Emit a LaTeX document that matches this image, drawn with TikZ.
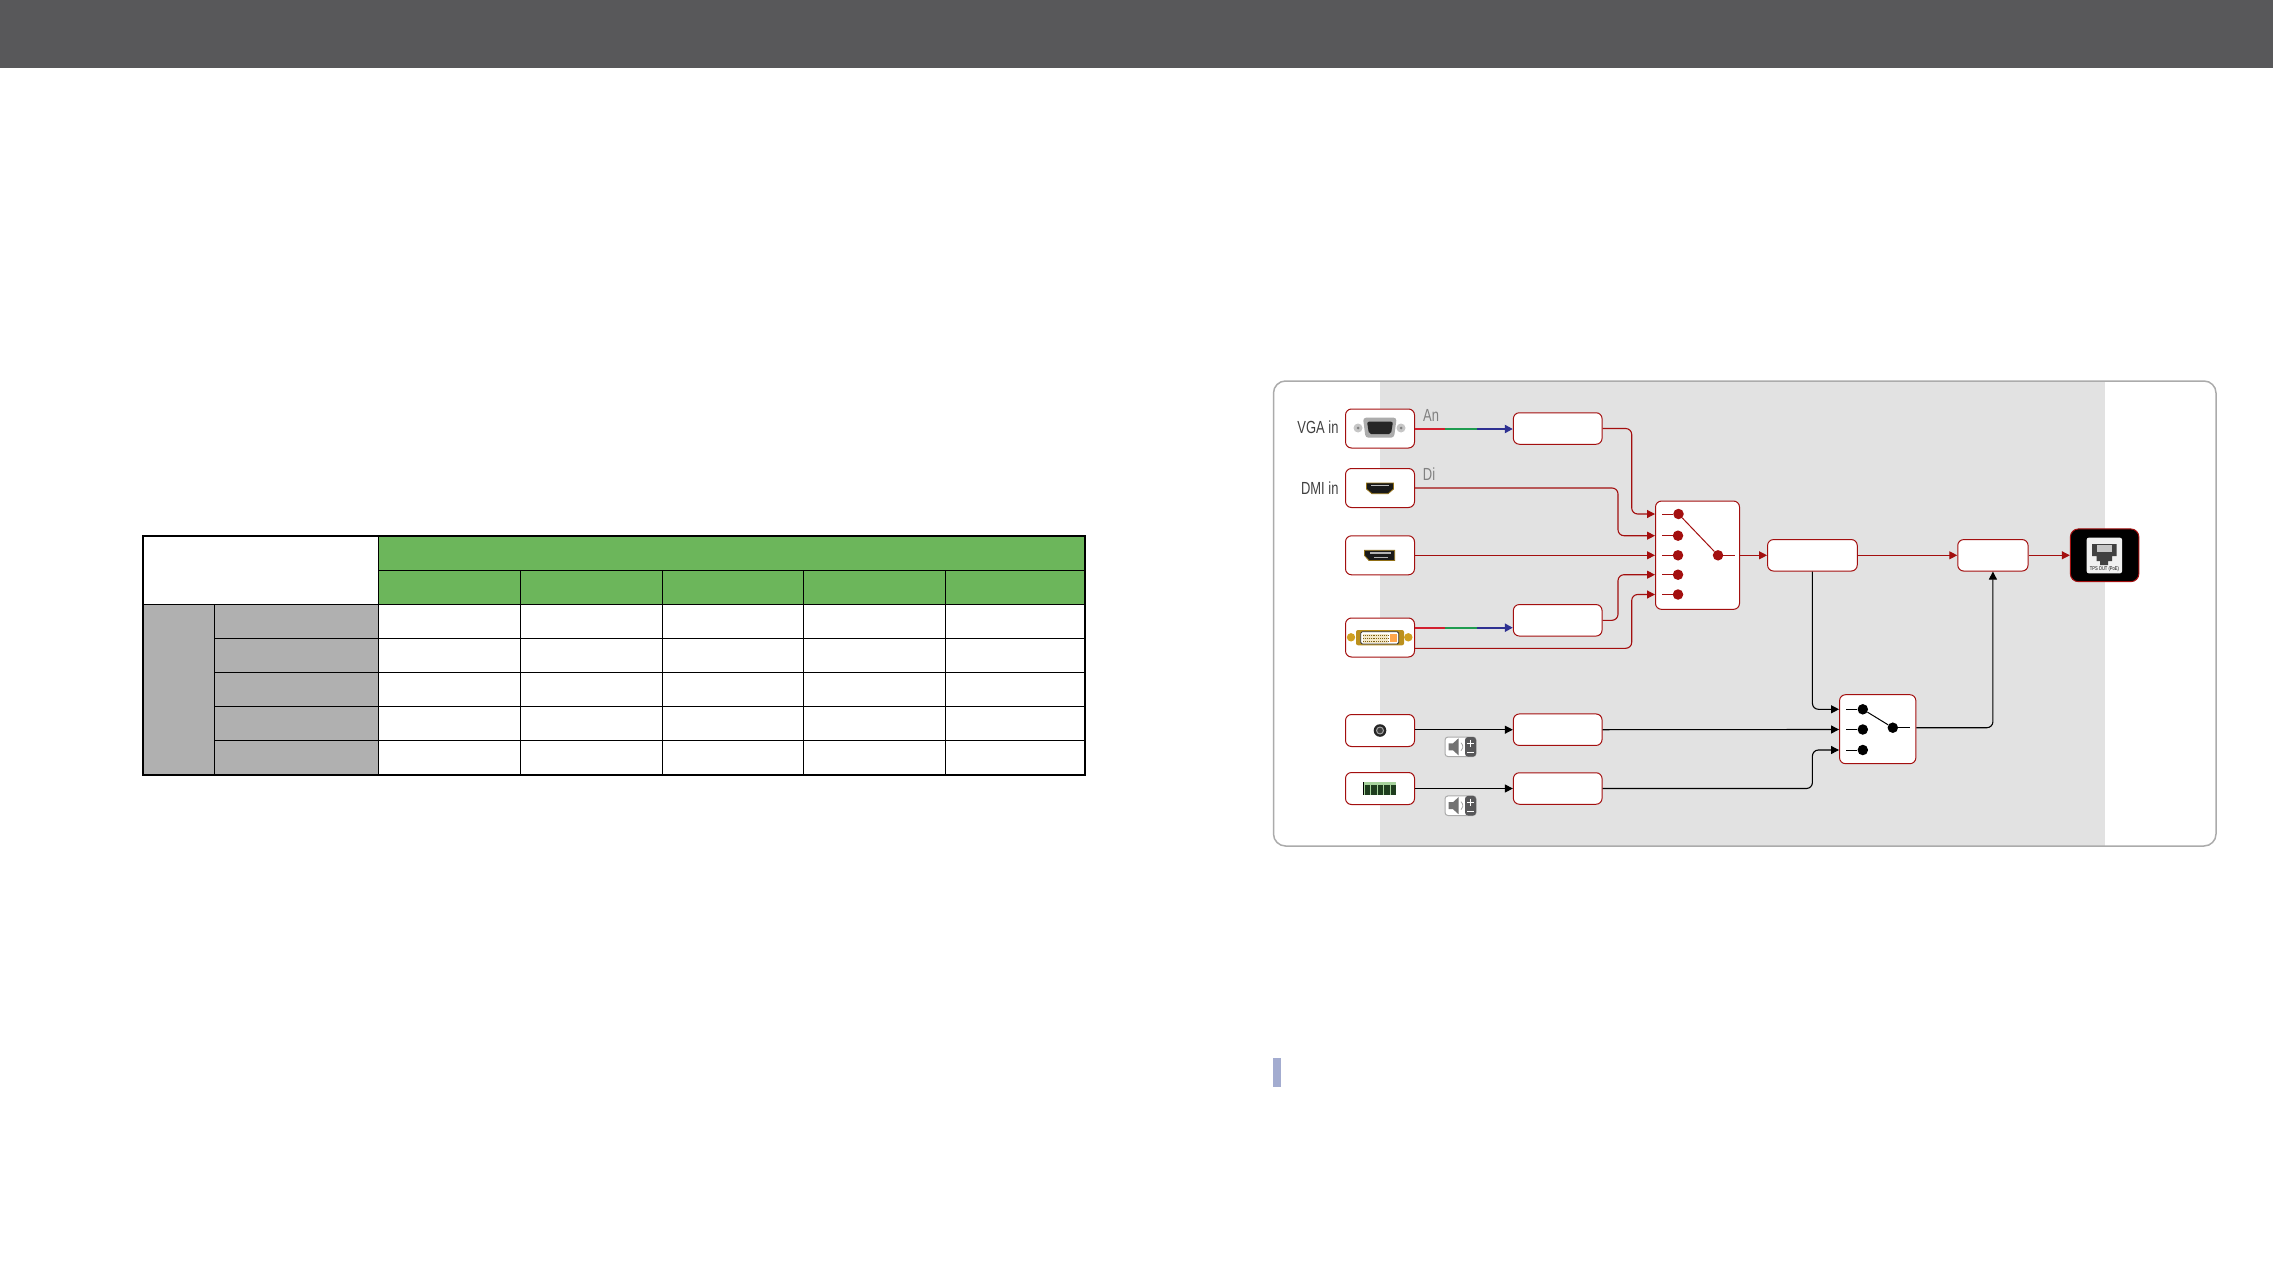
\documentclass[tikz,border=0pt]{standalone}
\usepackage{fontspec}
\usepackage{tikz}
\usetikzlibrary{arrows.meta}
\setmainfont[FakeStretch=0.74]{Liberation Sans}
\definecolor{ccHead}{HTML}{58585A}
\definecolor{ccBand}{HTML}{E2E2E2}
\definecolor{ccFrame}{HTML}{ABABAB}
\definecolor{ccGreen}{HTML}{6CB65B}
\definecolor{ccCell}{HTML}{B0B0B0}
\definecolor{ccWire}{HTML}{A30F0F}
\definecolor{ccRed}{HTML}{D2202F}
\definecolor{ccGrn}{HTML}{1F9C50}
\definecolor{ccBlu}{HTML}{2E3192}
\definecolor{ccGold}{HTML}{D0A020}
\definecolor{ccNote}{HTML}{A3ACD0}
\definecolor{ccPhx}{HTML}{1E3D1E}
\tikzset{
  portbox/.style={draw=ccWire,fill=white,line width=1pt,rounded corners=6pt,inner sep=0pt,minimum width=69pt},
  blockbox/.style={portbox,minimum height=31.5pt},
  redwire/.style={draw=ccWire,line width=1.1pt,rounded corners=6pt,-{Triangle[length=8pt,width=8pt]}},
  blackwire/.style={draw=black,line width=1.1pt,rounded corners=6pt,-{Triangle[length=8pt,width=8pt]}},
  reddot/.style={circle,fill=ccWire,inner sep=0pt,minimum size=10.5pt},
  blackdot/.style={circle,fill=black,inner sep=0pt,minimum size=10.5pt},
  portlabel/.style={anchor=east,inner sep=0pt,text=black!75,font=\fontsize{17.5}{20}\selectfont},
  siglabel/.style={anchor=west,inner sep=0pt,text=gray,font=\fontsize{17.5}{20}\selectfont},
  volicon/.pic={
    \draw[ccFrame,fill=white,line width=1pt,rounded corners=3pt] (-15.5,-9.8) rectangle (15.5,9.8);
    \fill[ccHead,rounded corners=3pt] (4.5,-9.8) rectangle (15.5,9.8);
    \fill[black!55] (-12,-3.5) -- (-7.5,-3.5) -- (-2,-8.5) -- (-2,8.5) -- (-7.5,3.5) -- (-12,3.5) -- cycle;
    \draw[black!35,line width=0.8pt] (0.5,-4) arc (-50:50:5.2);
    \draw[white,line width=1.2pt] (6.5,-3.5) -- (13.5,-3.5) (10,-7) -- (10,0) (6.5,6) -- (13.5,6);
  }
}
\begin{document}
\begin{tikzpicture}[x=1pt,y=-1pt]
\useasboundingbox (0,0) rectangle (2273,1276);
\fill[ccHead] (0,0) rectangle (2273,68);
% table
\fill[ccGreen] (378.3,535.7) rectangle (1085,604.3);
\fill[ccCell] (142.7,604.3) rectangle (378.3,775);
\draw[line width=1pt] (378.3,570.3) -- (1085,570.3);
\draw[line width=1pt] (142.7,604.3) -- (1085,604.3);
\draw[line width=1pt] (214.3,638.3) -- (1085,638.3);
\draw[line width=1pt] (214.3,672.3) -- (1085,672.3);
\draw[line width=1pt] (214.3,706.3) -- (1085,706.3);
\draw[line width=1pt] (214.3,740.3) -- (1085,740.3);
\draw[line width=1pt] (214.3,604.3) -- (214.3,775);
\draw[line width=1pt] (378.3,535.7) -- (378.3,775);
\draw[line width=1pt] (520,570.3) -- (520,775);
\draw[line width=1pt] (662.2,570.3) -- (662.2,775);
\draw[line width=1pt] (803.7,570.3) -- (803.7,775);
\draw[line width=1pt] (945.3,570.3) -- (945.3,775);
\draw[line width=2pt] (142.7,535.7) rectangle (1085,775);
% frame and band
\fill[ccBand] (1380,381) rectangle (2105,846);
\draw[ccFrame,line width=1.5pt,rounded corners=12pt] (1273.5,381) rectangle (2216,846);
\fill[ccNote] (1273,1058) rectangle (1281.3,1086.7);
% ports
\node[portbox,minimum height=39pt] (vga) at (1380,428.5) {};
\node[portbox,minimum height=39pt] (dmi) at (1380,488) {};
\node[portbox,minimum height=39pt] (dp) at (1380,555.3) {};
\node[portbox,minimum height=39pt] (dvi) at (1380,637.5) {};
\node[portbox,minimum height=32pt] (jack) at (1380,730.5) {};
\node[portbox,minimum height=32pt] (phx) at (1380,788.5) {};
\node[portlabel] (vganame) at (1338.7,427.5) {VGA in};
\node[portlabel] (dminame) at (1338.7,488) {DMI in};
\node[siglabel] (ansig) at (1423,415.7) {An};
\node[siglabel] (disig) at (1422.7,474.5) {Di};
% blocks
\node[blockbox,minimum width=88.7pt] (boxA) at (1557.7,428.5) {};
\node[blockbox,minimum width=88.7pt] (boxB) at (1557.7,620.3) {};
\node[blockbox,minimum width=88.7pt] (boxC) at (1557.7,729.7) {};
\node[blockbox,minimum width=88.7pt] (boxD) at (1557.7,788.5) {};
\node[blockbox,minimum width=89.7pt] (boxE) at (1812.4,555.3) {};
\node[blockbox,minimum width=70.3pt] (boxF) at (1992.9,555.3) {};
\node[portbox,minimum width=84pt,minimum height=108.3pt] (swA) at (1697.5,555.2) {};
\node[portbox,minimum width=76.3pt,minimum height=69pt] (swB) at (1877.7,729.2) {};
\node[portbox,fill=black,minimum width=68.5pt,minimum height=52.7pt,rounded corners=8pt] (tpout) at (2104.6,555.3) {};
% first switch
\coordinate (stubA1) at (1662,514);
\coordinate (stubA2) at (1662,535.7);
\coordinate (stubA3) at (1662,555.3);
\coordinate (stubA4) at (1662,574.7);
\coordinate (stubA5) at (1662,594.5);
\coordinate (stubAo) at (1735,555.3);
\node[reddot] (dotA1) at (1678.5,514) {};
\node[reddot] (dotA2) at (1678,535.7) {};
\node[reddot] (dotA3) at (1678,555.3) {};
\node[reddot] (dotA4) at (1678,574.7) {};
\node[reddot] (dotA5) at (1678,594.5) {};
\node[reddot] (dotAo) at (1718,555.3) {};
\draw[ccWire,line width=1pt] (stubA1) -- (dotA1);
\draw[ccWire,line width=1pt] (stubA2) -- (dotA2);
\draw[ccWire,line width=1pt] (stubA3) -- (dotA3);
\draw[ccWire,line width=1pt] (stubA4) -- (dotA4);
\draw[ccWire,line width=1pt] (stubA5) -- (dotA5);
\draw[ccWire,line width=1pt] (dotAo) -- (stubAo);
\draw[ccWire,line width=1pt] (dotA1) -- (dotAo);
% second switch
\coordinate (stubB1) at (1846.2,709.3);
\coordinate (stubB2) at (1846.2,729.5);
\coordinate (stubB3) at (1846.2,750);
\coordinate (stubBo) at (1909.8,727.7);
\node[blackdot] (dotB1) at (1862.8,709.3) {};
\node[blackdot] (dotB2) at (1862.8,729.5) {};
\node[blackdot] (dotB3) at (1862.8,750) {};
\node[blackdot] (dotBo) at (1892.8,727.7) {};
\draw[line width=1pt] (stubB1) -- (dotB1);
\draw[line width=1pt] (stubB2) -- (dotB2);
\draw[line width=1pt] (stubB3) -- (dotB3);
\draw[line width=1pt] (dotBo) -- (stubBo);
\draw[line width=1pt] (dotB1) -- (dotBo);
% coloured links
\coordinate (trunkL) at (1618,0);
\coordinate (trunkR) at (1631.7,0);
\coordinate (vgaR) at (1445,429);
\coordinate (vgaG) at (1477.3,429);
\coordinate (dviR) at (1445,627.7);
\coordinate (dviG) at (1477.3,627.7);
\coordinate (dviL) at (1414.5,648.3);
\draw[ccRed,line width=2pt] (vga.east |- vgaR) -- (vgaR);
\draw[ccGrn,line width=2pt] (vgaR) -- (vgaG);
\draw[ccBlu,line width=2pt,-{Triangle[length=8pt,width=8pt]}] (vgaG) -- (boxA.west |- vgaG);
\draw[ccRed,line width=2pt] (dvi.east |- dviR) -- (dviR);
\draw[ccGrn,line width=2pt] (dviR) -- (dviG);
\draw[ccBlu,line width=2pt,-{Triangle[length=8pt,width=8pt]}] (dviG) -- (boxB.west |- dviG);
% links
\draw[redwire] (boxA.east) -| (trunkR |- stubA1) -- (swA.west |- stubA1);
\draw[redwire] (dmi.east) -| (trunkL |- stubA2) -- (swA.west |- stubA2);
\draw[redwire] (dp.east) -- (swA.west |- stubA3);
\draw[redwire] (boxB.east) -| (trunkL |- stubA4) -- (swA.west |- stubA4);
\draw[redwire] (dviL) -| (trunkR |- stubA5) -- (swA.west |- stubA5);
\draw[redwire] (swA.east |- stubA3) -- (boxE.west);
\draw[redwire] (boxE.east) -- (boxF.west);
\draw[redwire] (boxF.east) -- (tpout.west);
\draw[blackwire] (jack.east |- boxC) -- (boxC.west);
\draw[blackwire] (phx.east) -- (boxD.west);
\draw[blackwire] (boxE.south) |- (swB.west |- stubB1);
\draw[blackwire] (boxC.east) -- (swB.west |- stubB2);
\draw[blackwire] (boxD.east) -| (boxE.south |- stubB3) -- (swB.west |- stubB3);
\draw[blackwire] (swB.east |- stubBo) -| (boxF.south);
% connector pictures
\fill[gray!45] (1358,428) circle (4.5);
\fill[gray!45] (1401,428) circle (4.5);
\fill[gray] (1358,428) circle (1.5);
\fill[gray] (1401,428) circle (1.5);
\fill[gray!65,rounded corners=3pt] (1363,417.7) -- (1396.7,417.7) -- (1394,437.7) -- (1365.5,437.7) -- cycle;
\fill[black!85,rounded corners=2pt] (1367,421.7) -- (1393,421.7) -- (1391,434) -- (1369,434) -- cycle;
\draw[ccGold!70!black,fill=black!90,line width=0.8pt] (1366.5,483) -- (1393.5,483) -- (1393.5,489) -- (1388,493.7) -- (1372,493.7) -- (1366.5,489) -- cycle;
\fill[gray!50] (1371,484.5) rectangle (1389,486);
\draw[ccGold!70!black,fill=black!90,line width=0.8pt] (1364.5,550.3) -- (1394.7,550.3) -- (1394.7,560.5) -- (1369,560.5) -- (1364.5,555.5) -- cycle;
\fill[gray!60] (1370,552) rectangle (1391,553.5);
\fill[gray!60] (1374,557) rectangle (1388,558.3);
\fill[ccGold] (1351,637.3) circle (4.2);
\fill[ccGold] (1408.3,637.3) circle (4.2);
\fill[ccGold!90!black,rounded corners=2pt] (1356,630) rectangle (1404,645.3);
\draw[black!80,fill=white,line width=0.8pt,rounded corners=1.5pt] (1360.7,631.7) rectangle (1398.7,644);
\fill[ccGold!25] (1363,633.5) rectangle (1388,642.5);
\draw[ccGold!60!black,densely dotted,line width=0.9pt] (1363,635) -- (1388,635) (1363,638) -- (1388,638) (1363,641) -- (1388,641);
\fill[orange!70] (1389.5,634) rectangle (1397,642);
\fill[black!85] (1380,730.5) circle (6.3);
\fill[gray!70] (1380,730.5) circle (4);
\fill[black!75] (1380,730.5) circle (2.8);
\fill[ccGreen!60!white] (1363.3,782.3) rectangle (1395.7,795);
\fill[black] (1363,782.3) rectangle (1364,795);
\fill[ccPhx] (1364.5,785) rectangle (1370,794.5);
\fill[ccPhx] (1371,785) rectangle (1376.5,794.5);
\fill[ccPhx] (1377.5,785) rectangle (1383,794.5);
\fill[ccPhx] (1384,785) rectangle (1389.5,794.5);
\fill[ccPhx] (1390.5,785) rectangle (1395.5,794.5);
\pic (volC) at (1460.5,746.8) {volicon};
\pic (volD) at (1460.5,805.7) {volicon};
\fill[gray!12,rounded corners=2pt] (2086.7,537.7) rectangle (2122,573.3);
\fill[black!75] (2092,544) -- (2116.5,544) -- (2116.5,556) -- (2112,556) -- (2112,561) -- (2108,561) -- (2108,565) -- (2100,565) -- (2100,561) -- (2096.5,561) -- (2096.5,556) -- (2092,556) -- cycle;
\fill[gray!45] (2097,545) rectangle (2111.5,552);
\node[inner sep=0pt,font=\fontsize{5.5}{6}\selectfont] (tpname) at (2104.4,569.5) {TPS OUT (PoE)};
\end{tikzpicture}
\end{document}
